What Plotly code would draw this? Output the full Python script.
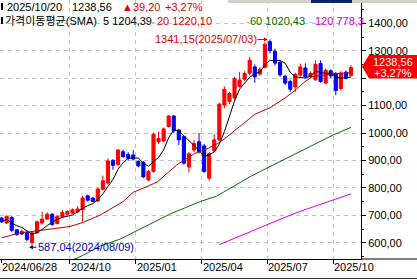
import plotly.graph_objects as go
import pandas as pd

# ---------------- data (weekly candles, index 0 = week of 2024/06/28) ----------------
week_idx = list(range(70))
open_ = [690, 672, 692, 647, 640, 638, 600, 636, 672, 686,
         704, 670, 696, 704, 708, 712, 720, 771, 763, 752,
         795, 818, 900, 885, 932, 922, 920, 896, 893, 829,
         860, 968, 971, 1024, 1062, 1011, 987, 876, 938, 968,
         953, 835, 935, 975, 1102, 1115, 1128, 1170, 1196, 1218,
         1241, 1215, 1240, 1333, 1298, 1258, 1207, 1188, 1168, 1211,
         1237, 1205, 1194, 1253, 1182, 1227, 1217, 1162, 1222, 1210]
high = [694, 700, 697, 650, 648, 642, 640, 680, 714, 711,
        708, 700, 720, 718, 725, 733, 771, 775, 766, 800,
        845, 908, 905, 942, 940, 930, 938, 900, 898, 865,
        1002, 1005, 1020, 1065, 1066, 1015, 990, 930, 975, 1000,
        960, 930, 995, 1110, 1170, 1150, 1205, 1223, 1225, 1278,
        1250, 1240, 1330, 1341.15, 1308, 1262, 1212, 1195, 1220, 1253,
        1254, 1225, 1265, 1265, 1235, 1232, 1222, 1225, 1228, 1248]
low = [672, 668, 640, 625, 628, 605, 587.04, 632, 665, 683,
       662, 666, 693, 700, 705, 708, 677, 750, 748, 748,
       790, 812, 866, 880, 910, 900, 900, 875, 836, 825,
       855, 960, 968, 1020, 1000, 956, 885, 856, 930, 925,
       855, 826, 930, 970, 1090, 1105, 1122, 1165, 1190, 1210,
       1183, 1208, 1235, 1290, 1246, 1205, 1175, 1150, 1150, 1205,
       1200, 1200, 1190, 1183, 1178, 1200, 1138, 1155, 1195, 1205]
close = [676, 696, 645, 630, 632, 612, 636, 676, 686, 704,
         666, 696, 710, 714, 720, 723, 763, 755, 750, 796,
         826, 898, 882, 938, 914, 908, 905, 880, 840, 860,
         995, 980, 1015, 1062, 1008, 975, 890, 924, 962, 932,
         860, 925, 975, 1105, 1159, 1144, 1199, 1193, 1217, 1265,
         1205, 1232, 1324, 1300, 1255, 1212, 1182, 1160, 1214, 1241,
         1205, 1217, 1250, 1188, 1229, 1208, 1155, 1219, 1199.36, 1238.56]

# moving averages (candle index, value)
ma20_x = [0, 3.6, 5.6, 9.6, 13.5, 16.1, 19.4, 24, 26, 28, 30.7, 32.7, 34.6, 36.2, 38.2,
          40.8, 42.7, 44.1, 46.1, 48, 50, 53, 56, 58, 59.9, 61.3, 65, 69]
ma20_y = [618, 636, 640, 650, 659, 674, 700, 750, 784, 799, 821, 853, 884, 902, 926,
          944, 962, 980, 1011, 1040, 1068, 1092, 1128, 1156, 1187, 1205, 1215, 1220.10]
ma60_x = [14, 15.1, 19.4, 23.4, 26.3, 29.3, 33.3, 36.2, 39.2, 42.5, 45.7, 49.1, 52.4,
          55.6, 58.9, 62.3, 65.5, 69]
ma60_y = [538, 545, 587, 613, 640, 668, 705, 727, 750, 770, 805, 841, 872,
          902, 932, 962, 993, 1020.43]
ma120_x = [43, 49.1, 52.4, 55.6, 58.9, 62.3, 65.5, 69]
ma120_y = [593, 641, 665, 690, 714, 735, 756, 778.3]

tick_idx = [0, 14, 27, 40, 53, 66]
tick_labels = ["2024/06/28", "2024/10", "2025/01", "2025/04", "2025/07", "2025/10"]
y_ticks = [600, 700, 800, 900, 1000, 1100, 1200, 1300, 1400]

ma5 = pd.Series(close).rolling(5, min_periods=1).mean()

# ---------------- geometry helpers (pixel -> paper) ----------------
W, H = 417, 280
PL, PR, PT, PB = 0, 361, 0, 259
def px(x):
    return (x - PL) / (PR - PL)
def py(y):
    return (PB - y) / (PB - PT)
def fmt(v):
    return f"{v:.2f}".replace(".", ",")

FONT = "Liberation Sans, Arial, Noto Sans CJK KR, sans-serif"

fig = go.Figure()
fig.add_trace(go.Candlestick(
    x=week_idx, open=open_, high=high, low=low, close=close,
    increasing=dict(line=dict(color="#ff0000", width=1), fillcolor="#ff0000"),
    decreasing=dict(line=dict(color="#0000ff", width=1), fillcolor="#0000ff"),
    whiskerwidth=0, hoverinfo="skip"))
fig.add_trace(go.Scatter(x=ma120_x, y=ma120_y, mode="lines",
                         line=dict(color="#e000e0", width=1), hoverinfo="skip"))
fig.add_trace(go.Scatter(x=ma60_x, y=ma60_y, mode="lines",
                         line=dict(color="#007000", width=1), hoverinfo="skip"))
fig.add_trace(go.Scatter(x=ma20_x, y=ma20_y, mode="lines",
                         line=dict(color="#c00000", width=1), hoverinfo="skip"))
fig.add_trace(go.Scatter(x=week_idx, y=ma5, mode="lines",
                         line=dict(color="#000000", width=1), hoverinfo="skip"))

fig.update_layout(
    width=W, height=H,
    margin=dict(l=PL, r=W - PR, t=PT, b=H - PB, pad=0),
    paper_bgcolor="white", plot_bgcolor="white",
    showlegend=False, separators=",.", boxgap=0.12,
    font=dict(family=FONT, size=11, color="black"),
)
fig.update_xaxes(
    range=[-0.316, 70.98], rangeslider=dict(visible=False),
    tickvals=[t - 0.5 for t in tick_idx], showticklabels=False,
    ticks="outside", ticklen=4, tickcolor="black", tickwidth=1,
    showgrid=True, gridcolor="#c4c4c4", griddash="4px,4px", gridwidth=1,
    showline=True, linecolor="black", linewidth=1, zeroline=False,
)
# the 1200 label is hidden behind the last-price badge in the reference
fig.update_yaxes(
    side="right", range=[540.6, 1485],
    tickvals=y_ticks, ticktext=[("" if v == 1200 else fmt(v)) for v in y_ticks],
    ticks="outside", ticklen=4, tickcolor="black",
    minor=dict(dtick=50, ticks="outside", ticklen=2, tickcolor="black", showgrid=False),
    showgrid=True, gridcolor="#c4c4c4", griddash="4px,4px", gridwidth=1,
    showline=True, linecolor="black", linewidth=1, zeroline=False,
    tickfont=dict(size=11, color="black"),
)

ann = []
def text(x, y, s, color="black", anchor="left", size=11):
    ann.append(dict(x=px(x), y=py(y), xref="paper", yref="paper",
                    text=s, showarrow=False, xanchor=anchor, yanchor="middle",
                    font=dict(family=FONT, size=size, color=color), borderpad=0))

chg = close[-1] - close[-2]
pct = chg / close[-2] * 100
# header line 1
text(6, 7, "2025/10/20")
text(71, 7, fmt(close[-1]))
text(121, 7, "▲" + fmt(chg), color="#e00000")
text(164, 7, "+" + fmt(pct) + "%", color="#e00000")
# header line 2
text(4, 21, "가격이동평균(SMA)")
text(102, 21, "5 1204,39")
text(150, 21, "-", color="#b0b0b0")
text(156, 21, "20 1220,10", color="#e00000")
text(245, 21, "-", color="#b0b0b0")
text(249, 21, "60 1020,43", color="#007000")
text(308, 21, "-", color="#b0b0b0")
text(314, 21, "120 778,3", color="#d000d0")

# high / low markers (text + arrows)
ann.append(dict(x=53, y=high[53], xref="x", yref="y", xanchor="right", yanchor="middle",
                text="1341,15(2025/07/03)", showarrow=False, xshift=-12,
                font=dict(family=FONT, size=11, color="#e00000"), borderpad=0))
ann.append(dict(x=53, y=high[53], xref="x", yref="y", text="", showarrow=True,
                ax=-12, ay=0, xshift=-2, arrowhead=2, arrowsize=0.8, arrowwidth=1,
                arrowcolor="#e00000", standoff=0))
ann.append(dict(x=6, y=low[6], xref="x", yref="y", xanchor="left", yanchor="middle",
                text="587,04(2024/08/09)", showarrow=False, xshift=5, yshift=-1,
                font=dict(family=FONT, size=11, color="#0000c0"), borderpad=0))
ann.append(dict(x=6, y=low[6], xref="x", yref="y", text="", showarrow=True,
                ax=9, ay=0, xshift=-3, yshift=-1, arrowhead=2, arrowsize=0.8, arrowwidth=1,
                arrowcolor="#0000c0", standoff=0))

# x tick labels
for t, lab in zip(tick_idx, tick_labels):
    ann.append(dict(x=max(t - 0.5, -0.1), y=py(267), xref="x", yref="paper",
                    xanchor="left", yanchor="middle", text=lab, showarrow=False,
                    font=dict(family=FONT, size=11, color="black"), borderpad=0))

# last price badge text
text(393, 62.5, fmt(close[-1]), color="white", anchor="center")
text(393, 72.5, "+" + fmt(pct) + "%", color="white", anchor="center")
fig.update_layout(annotations=ann)

shapes = []
# last price badge
path = (f"M {px(362)} {py(66.5)} L {px(369)} {py(55)} L {px(417)} {py(55)} "
        f"L {px(417)} {py(78.5)} L {px(369)} {py(78.5)} Z")
shapes.append(dict(type="path", path=path, xref="paper", yref="paper",
                   fillcolor="#ff0000", line=dict(width=0), layer="above"))
# small black markers at header lines
for yy in (3, 17):
    shapes.append(dict(type="rect", xref="paper", yref="paper", x0=px(1), x1=px(3),
                       y0=py(yy), y1=py(yy + 7), fillcolor="black", line=dict(width=0)))
# first tick mark
shapes.append(dict(type="line", xref="paper", yref="paper", x0=px(1.5), x1=px(1.5),
                   y0=py(259), y1=py(263), line=dict(color="black", width=1)))
# axis line extension into right panel and bottom border
shapes.append(dict(type="line", xref="paper", yref="paper", x0=px(361), x1=px(417),
                   y0=py(259), y1=py(259), line=dict(color="black", width=1)))
shapes.append(dict(type="line", xref="paper", yref="paper", x0=px(0), x1=px(417),
                   y0=py(278.5), y1=py(278.5), line=dict(color="#303030", width=1)))
# top toolbar remnants
shapes.append(dict(type="rect", xref="paper", yref="paper", x0=px(228), x1=px(417),
                   y0=py(0), y1=py(3), fillcolor="#d4d0c8", line=dict(width=0)))
shapes.append(dict(type="rect", xref="paper", yref="paper", x0=px(311), x1=px(352),
                   y0=py(0), y1=py(3), fillcolor="#0a246a", line=dict(width=0)))
fig.update_layout(shapes=shapes)

fig.write_html("out.html")
